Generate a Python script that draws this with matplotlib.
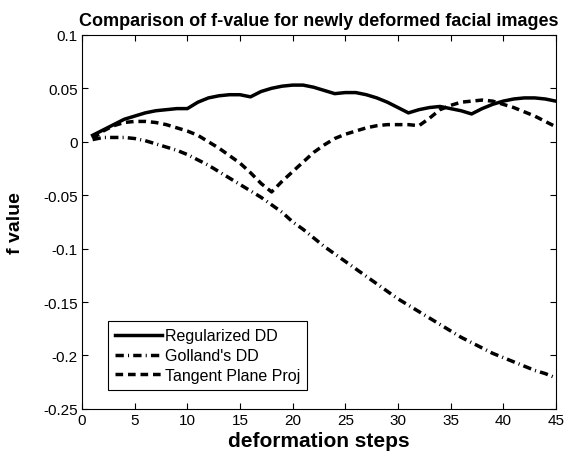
import matplotlib
matplotlib.use("Agg")
import matplotlib.pyplot as plt
import numpy as np

# deformation steps 1..45
steps = np.arange(1, 46)

regularized_dd = [
    0.006, 0.011, 0.016, 0.021, 0.024, 0.027, 0.029, 0.030, 0.031, 0.031,
    0.037, 0.041, 0.043, 0.044, 0.044, 0.042, 0.047, 0.050, 0.052, 0.053,
    0.053, 0.051, 0.048, 0.045, 0.046, 0.046, 0.044, 0.041, 0.037, 0.032,
    0.027, 0.030, 0.032, 0.033, 0.031, 0.029, 0.026, 0.031, 0.035, 0.038,
    0.040, 0.041, 0.041, 0.040, 0.038,
]

golland_dd = [
    0.002, 0.004, 0.004, 0.004, 0.003, 0.001, -0.002, -0.005, -0.008, -0.012,
    -0.017, -0.022, -0.028, -0.034, -0.040, -0.046, -0.052, -0.059, -0.066, -0.075,
    -0.082, -0.090, -0.098, -0.105, -0.112, -0.119, -0.126, -0.133, -0.140, -0.147,
    -0.153, -0.159, -0.165, -0.171, -0.177, -0.183, -0.188, -0.193, -0.198, -0.202,
    -0.206, -0.210, -0.214, -0.217, -0.221,
]

tangent_proj = [
    0.003, 0.010, 0.015, 0.018, 0.019, 0.019, 0.018, 0.016, 0.013, 0.010,
    0.006, 0.000, -0.006, -0.013, -0.020, -0.029, -0.039, -0.047, -0.037, -0.028,
    -0.019, -0.010, -0.003, 0.003, 0.007, 0.010, 0.013, 0.015, 0.016, 0.016,
    0.016, 0.015, 0.022, 0.030, 0.034, 0.037, 0.038, 0.039, 0.038, 0.035,
    0.032, 0.028, 0.024, 0.019, 0.014,
]

plt.rcParams["font.family"] = ["Liberation Sans", "DejaVu Sans"]

fig = plt.figure(figsize=(5.66, 4.6), dpi=100)
ax = fig.add_axes((0.145, 0.109, 0.837, 0.813))

lw = 2.5
ax.plot(steps, regularized_dd, color="black", lw=lw, label="Regularized DD")
ax.plot(steps, golland_dd, color="black", lw=lw, dashes=(2.4, 1.2, 0.3, 1.2),
        dash_capstyle="butt", label="Golland's DD")
ax.plot(steps, tangent_proj, color="black", lw=lw, dashes=(2.2, 1.4),
        dash_capstyle="butt", label="Tangent Plane Proj")

ax.set_xlim(0, 45)
ax.set_ylim(-0.25, 0.1)
ax.set_xticks(np.arange(0, 46, 5))
ax.set_yticks([-0.25, -0.2, -0.15, -0.1, -0.05, 0, 0.05, 0.1])
ax.set_yticklabels(["-0.25", "-0.2", "-0.15", "-0.1", "-0.05", "0", "0.05", "0.1"])
ax.tick_params(direction="in", top=True, right=True, length=4, width=0.8,
               labelsize=11, pad=3)
for sp in ax.spines.values():
    sp.set_linewidth(0.8)

ax.set_title("Comparison of f-value for newly deformed facial images",
             fontsize=13, fontweight="bold", pad=7)
ax.set_xlabel("deformation steps", fontsize=15, fontweight="bold", labelpad=3)
ax.set_ylabel("f value", fontsize=14, fontweight="bold")
ax.yaxis.set_label_coords(-0.122, 0.5)

leg = ax.legend(loc="lower left", bbox_to_anchor=(0.055, 0.05), fontsize=11.5,
                fancybox=False, framealpha=1, edgecolor="black",
                handlelength=2.9, handletextpad=0.2, borderpad=0.45,
                labelspacing=0.3, borderaxespad=0)
leg.get_frame().set_linewidth(0.8)

fig.savefig("out.png", dpi=100)
